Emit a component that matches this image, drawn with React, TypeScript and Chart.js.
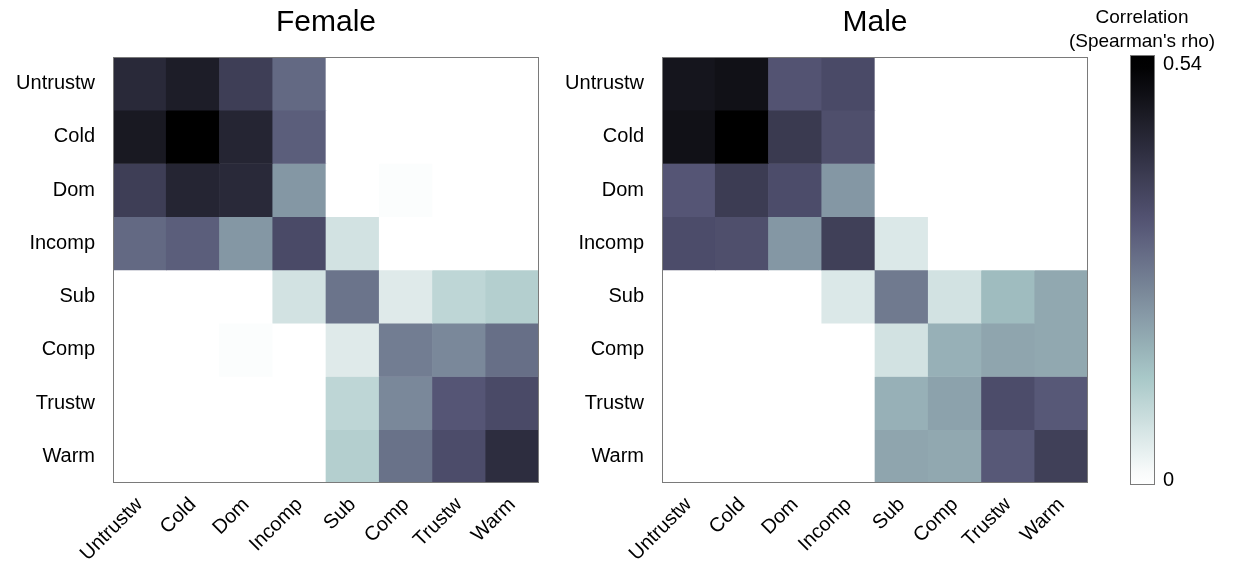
import React, { useEffect, useRef } from 'react';
import { Chart, registerables } from 'chart.js';

Chart.register(...registerables);

// Trait order used for both rows and columns of the correlation matrices
const traits = ['Untrustw', 'Cold', 'Dom', 'Incomp', 'Sub', 'Comp', 'Trustw', 'Warm'];

// Spearman's rho between trait ratings, rows/columns in `traits` order
const femaleRho = [
  [0.44, 0.47, 0.39, 0.30, 0, 0, 0, 0],
  [0.48, 0.54, 0.45, 0.32, 0, 0, 0, 0],
  [0.39, 0.45, 0.44, 0.22, 0, 0.006, 0, 0],
  [0.30, 0.32, 0.22, 0.36, 0.07, 0, 0, 0],
  [0, 0, 0, 0.07, 0.28, 0.05, 0.10, 0.115],
  [0, 0, 0.006, 0, 0.05, 0.265, 0.245, 0.29],
  [0, 0, 0, 0, 0.10, 0.245, 0.335, 0.36],
  [0, 0, 0, 0, 0.115, 0.285, 0.355, 0.43],
];

const maleRho = [
  [0.49, 0.50, 0.34, 0.36, 0, 0, 0, 0],
  [0.50, 0.54, 0.40, 0.35, 0, 0, 0, 0],
  [0.335, 0.395, 0.355, 0.22, 0, 0, 0, 0],
  [0.355, 0.35, 0.22, 0.385, 0.055, 0, 0, 0],
  [0, 0, 0, 0.055, 0.27, 0.07, 0.155, 0.19],
  [0, 0, 0, 0, 0.07, 0.175, 0.195, 0.19],
  [0, 0, 0, 0, 0.175, 0.20, 0.355, 0.33],
  [0, 0, 0, 0, 0.195, 0.19, 0.33, 0.385],
];

// Colour scale
const rhoMax = 0.54;
const colorbarTicks = [0, 0.54];
const colorbarLimits = [-0.006, 0.553];

const FONT = "'Liberation Sans', Arial, sans-serif";
const FRAME = '#7a7a7a';

const clamp01 = (x: number) => Math.max(0, Math.min(1, x));

// Inverted "bone" colormap: 0 -> white, rhoMax -> black
function rhoColor(v: number): string {
  const t = clamp01(1 - v / rhoMax);
  const hotR = clamp01(t / 0.375);
  const hotG = clamp01((t - 0.375) / 0.375);
  const hotB = clamp01((t - 0.75) / 0.25);
  const r = (7 * t + hotB) / 8;
  const g = (7 * t + hotG) / 8;
  const b = (7 * t + hotR) / 8;
  return `rgb(${Math.round(r * 255)},${Math.round(g * 255)},${Math.round(b * 255)})`;
}

const framePlugin = {
  id: 'frame',
  afterDatasetsDraw(chart: any) {
    const { ctx, chartArea: a } = chart;
    ctx.save();
    ctx.strokeStyle = FRAME;
    ctx.lineWidth = 1;
    ctx.strokeRect(Math.round(a.left) + 0.5, Math.round(a.top) + 0.5,
      Math.round(a.right - a.left) - 1, Math.round(a.bottom - a.top) - 1);
    ctx.restore();
  },
};

function heatmapConfig(title: string, matrix: number[][], axisWidth: number, rightPad: number) {
  const n = traits.length;
  const datasets = matrix.map((row, i) => ({
    label: traits[i],
    data: row.map((v, j) => ({ x: traits[j], y: [n - 1 - i, n - i], v })),
    backgroundColor: (ctx: any) => rhoColor(ctx.raw ? ctx.raw.v : 0),
    borderWidth: 0,
    barPercentage: 1,
    categoryPercentage: 1,
    grouped: false,
  }));
  return {
    type: 'bar',
    data: { labels: traits, datasets },
    plugins: [framePlugin],
    options: {
      responsive: false,
      animation: false,
      layout: { padding: { left: 0, right: rightPad, top: 0, bottom: 0 } },
      plugins: {
        legend: { display: false },
        tooltip: { enabled: false },
        title: {
          display: true,
          text: title,
          color: '#000',
          fullSize: false,
          font: { family: FONT, size: 30, weight: 'normal', lineHeight: 1.2 },
          padding: { top: 5, bottom: 16 },
        },
      },
      scales: {
        x: {
          type: 'category',
          offset: true,
          grid: { display: false, drawTicks: false },
          border: { display: false },
          ticks: {
            autoSkip: false,
            maxRotation: 45,
            minRotation: 45,
            padding: 10,
            color: '#000',
            font: { family: FONT, size: 20 },
          },
          afterFit: (s: any) => { s.height = 84; },
        },
        y: {
          type: 'linear',
          min: 0,
          max: n,
          grid: { display: false, drawTicks: false },
          border: { display: false },
          afterBuildTicks: (s: any) => {
            s.ticks = traits.map((_, k) => ({ value: k + 0.5 }));
          },
          ticks: {
            padding: 18,
            color: '#000',
            font: { family: FONT, size: 20 },
            callback: (value: number) => traits[n - 1 - Math.floor(value)],
          },
          afterFit: (s: any) => { s.width = axisWidth; },
        },
      },
    },
  };
}

function colorbarConfig() {
  const [lo, hi] = colorbarLimits;
  return {
    type: 'bar',
    data: {
      labels: [''],
      datasets: [{
        label: 'rho',
        xAxisID: 'x',
        yAxisID: 'y',
        data: [[lo, hi]],
        borderWidth: 0,
        barPercentage: 1,
        categoryPercentage: 1,
        backgroundColor: (ctx: any) => {
          const chart = ctx.chart;
          const area = chart.chartArea;
          if (!area) return '#fff';
          const ys = chart.scales.y;
          const y0 = ys.getPixelForValue(lo);
          const y1 = ys.getPixelForValue(hi);
          const g = chart.ctx.createLinearGradient(0, y0, 0, y1);
          const steps = 32;
          for (let k = 0; k <= steps; k++) {
            const v = lo + (hi - lo) * (k / steps);
            g.addColorStop(k / steps, rhoColor(v));
          }
          return g;
        },
      }],
    },
    plugins: [framePlugin],
    options: {
      responsive: false,
      animation: false,
      layout: { padding: { left: 0, right: 0, top: 0, bottom: 82 } },
      plugins: {
        legend: { display: false },
        tooltip: { enabled: false },
        title: {
          display: true,
          text: ['Correlation', "(Spearman's rho)"],
          color: '#000',
          fullSize: true,
          font: { family: FONT, size: 19, weight: 'normal', lineHeight: 1.26 },
          padding: { top: 6, bottom: 1 },
        },
      },
      scales: {
        x: { display: false },
        y: {
          position: 'right',
          min: lo,
          max: hi,
          grid: { display: false, drawTicks: false },
          border: { display: false },
          afterBuildTicks: (s: any) => {
            s.ticks = colorbarTicks.map((v) => ({ value: v }));
          },
          ticks: {
            padding: 8,
            color: '#000',
            font: { family: FONT, size: 20 },
            callback: (value: number) => (value === 0 ? '0' : value.toFixed(2)),
          },
          afterFit: (s: any) => { s.width = 83; },
        },
        // empty spacer axis keeping the bar clear of the plot to its left
        yPad: {
          type: 'linear',
          position: 'left',
          display: true,
          grid: { display: false, drawTicks: false },
          border: { display: false },
          ticks: { display: false },
          afterFit: (s: any) => { s.width = 84; },
        },
      },
    },
  };
}

function ChartCanvas({ make, left, width }: { make: () => any; left: number; width: number }) {
  const ref = useRef<HTMLCanvasElement | null>(null);
  useEffect(() => {
    if (!ref.current) return;
    const chart = new Chart(ref.current, make());
    return () => chart.destroy();
  }, []);
  return (
    <canvas
      ref={ref}
      width={width}
      height={567}
      style={{ position: 'absolute', left, top: 0, width, height: 567, display: 'block' }}
    />
  );
}

export default function App() {
  return (
    <div style={{ position: 'absolute', left: 0, top: 0, width: 1238, height: 567, background: '#fff', overflow: 'hidden' }}>
      <ChartCanvas make={() => heatmapConfig('Female', femaleRho, 113, 21)} left={0} width={560} />
      <ChartCanvas make={() => heatmapConfig('Male', maleRho, 102, 22)} left={560} width={550} />
      <ChartCanvas make={colorbarConfig} left={1046} width={192} />
    </div>
  );
}
